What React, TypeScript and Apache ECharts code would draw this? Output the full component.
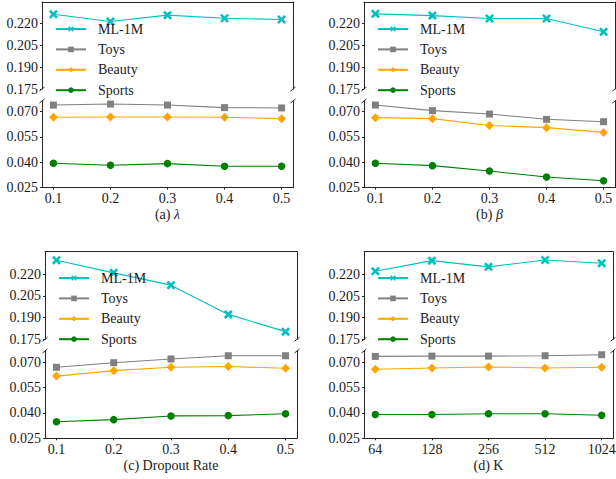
import React, { useEffect, useRef } from "react";
import * as echarts from "echarts";

// ---------- data ----------
const SERIES_NAMES = ["ML-1M", "Toys", "Beauty", "Sports"];
const X_LABELS = ["0.1", "0.2", "0.3", "0.4", "0.5"];
const K_LABELS = ["64", "128", "256", "512", "1024"];
const Y_TOP_TICKS = [0.175, 0.19, 0.205, 0.22];
const Y_BOTTOM_TICKS = [0.025, 0.04, 0.055, 0.07];

// (a) lambda
const ML_A = [0.2261, 0.2212, 0.2255, 0.2234, 0.2225];
const TOYS_A = [0.0737, 0.0743, 0.0737, 0.0722, 0.072];
const BEAUTY_A = [0.0665, 0.0667, 0.0667, 0.0665, 0.0657];
const SPORTS_A = [0.0394, 0.0382, 0.0392, 0.0376, 0.0376];
// (b) beta
const ML_B = [0.2264, 0.2252, 0.2232, 0.2232, 0.2141];
const TOYS_B = [0.0737, 0.0704, 0.0684, 0.0653, 0.0639];
const BEAUTY_B = [0.0663, 0.0657, 0.0617, 0.0604, 0.0576];
const SPORTS_B = [0.0394, 0.038, 0.0348, 0.0313, 0.0291];
// (c) dropout rate
const ML_C = [0.2296, 0.2209, 0.2124, 0.1922, 0.1803];
const TOYS_C = [0.0669, 0.0696, 0.0718, 0.0737, 0.0737];
const BEAUTY_C = [0.0617, 0.0649, 0.0669, 0.0674, 0.0663];
const SPORTS_C = [0.0348, 0.036, 0.0382, 0.0384, 0.0395];
// (d) K
const ML_D = [0.2222, 0.2295, 0.2252, 0.23, 0.2277];
const TOYS_D = [0.0733, 0.0735, 0.0735, 0.0737, 0.0743];
const BEAUTY_D = [0.0657, 0.0665, 0.0671, 0.0665, 0.0669];
const SPORTS_D = [0.039, 0.039, 0.0395, 0.0395, 0.0386];

// ---------- styling / layout ----------
const FONT = "'Liberation Serif', 'DejaVu Serif', serif";
const FS = 14;
const AXIS_COLOR = "#262626";
const TEXT_COLOR = "#1a1a1a";
const COLORS = ["#00BFBF", "#808080", "#FFA500", "#008000"];
const X_PATH =
  "path://M2,0 L5,3 L8,0 L10,2 L7,5 L10,8 L8,10 L5,7 L2,10 L0,8 L3,5 L0,2 Z";
const SYMBOLS = [X_PATH, "rect", "diamond", "circle"];
const SYMBOL_SIZES = [9, 7, 9, 7.5];

const PANELS = [
  {
    left: 42, width: 251, topT: 2, hT: 87, topB: 101, hB: 86.7,
    yMaxT: 0.2345, yMaxB: 0.0761, legendLeft: 55, legendTop: 22,
    labels: X_LABELS, name: "(a) {i|λ}",
    data: [ML_A, TOYS_A, BEAUTY_A, SPORTS_A],
  },
  {
    left: 364, width: 251, topT: 2, hT: 87, topB: 101, hB: 86.7,
    yMaxT: 0.2345, yMaxB: 0.0761, legendLeft: 377, legendTop: 22,
    labels: X_LABELS, name: "(b) {i|β}",
    data: [ML_B, TOYS_B, BEAUTY_B, SPORTS_B],
  },
  {
    left: 45, width: 252, topT: 251.7, hT: 87.6, topB: 351, hB: 87.3,
    yMaxT: 0.2355, yMaxB: 0.0765, legendLeft: 58, legendTop: 271,
    labels: X_LABELS, name: "(c) Dropout Rate",
    data: [ML_C, TOYS_C, BEAUTY_C, SPORTS_C],
  },
  {
    left: 364, width: 249, topT: 251.7, hT: 87.6, topB: 351, hB: 87.3,
    yMaxT: 0.2357, yMaxB: 0.0765, legendLeft: 377, legendTop: 271,
    labels: K_LABELS, name: "(d) K",
    data: [ML_D, TOYS_D, BEAUTY_D, SPORTS_D],
  },
];

const X_IDX = [0, 1, 2, 3, 4];

function buildOption() {
  const grid: any[] = [];
  const xAxis: any[] = [];
  const yAxis: any[] = [];
  const series: any[] = [];
  const legend: any[] = [];
  const graphic: any[] = [];
  const lineStyle = { color: AXIS_COLOR, width: 1 };
  const txt = { color: TEXT_COLOR, fontFamily: FONT, fontSize: FS };

  PANELS.forEach((p) => {
    const gT = grid.length;
    grid.push({ left: p.left, top: p.topT, width: p.width, height: p.hT, outerBoundsMode: "none" });
    grid.push({ left: p.left, top: p.topB, width: p.width, height: p.hB, outerBoundsMode: "none" });
    const gB = gT + 1;

    xAxis.push({
      type: "value", gridIndex: gT, min: -0.2, max: 4.2, position: "top",
      axisLine: { show: true, onZero: false, lineStyle },
      axisTick: { show: false }, axisLabel: { show: false }, splitLine: { show: false },
    });
    xAxis.push({
      type: "value", gridIndex: gB, min: -0.2, max: 4.2, position: "bottom",
      axisLine: { show: true, onZero: false, lineStyle },
      axisTick: { show: true, length: 2, customValues: X_IDX, lineStyle },
      axisLabel: {
        ...txt, customValues: X_IDX, margin: 4,
        formatter: (v: number) => p.labels[Math.round(v)] ?? "",
      },
      splitLine: { show: false },
      name: p.name, nameLocation: "middle", nameGap: 20,
      nameTextStyle: {
        ...txt,
        rich: { i: { ...txt, fontStyle: "italic" } },
      },
    });
    const xT = xAxis.length - 2;
    const xB = xAxis.length - 1;

    const yTL = yAxis.length;
    yAxis.push({
      type: "value", gridIndex: gT, min: 0.175, max: p.yMaxT, position: "left",
      axisLine: { show: true, onZero: false, lineStyle },
      axisTick: { show: true, length: 2, customValues: Y_TOP_TICKS, lineStyle },
      axisLabel: {
        ...txt, customValues: Y_TOP_TICKS, margin: 4,
        formatter: (v: number) => v.toFixed(3),
      },
      splitLine: { show: false },
    });
    yAxis.push({
      type: "value", gridIndex: gT, min: 0.175, max: p.yMaxT, position: "right",
      axisLine: { show: true, onZero: false, lineStyle },
      axisTick: { show: false }, axisLabel: { show: false }, splitLine: { show: false },
    });
    const yBL = yAxis.length;
    yAxis.push({
      type: "value", gridIndex: gB, min: 0.025, max: p.yMaxB, position: "left",
      axisLine: { show: true, onZero: false, lineStyle },
      axisTick: { show: true, length: 2, customValues: Y_BOTTOM_TICKS, lineStyle },
      axisLabel: {
        ...txt, customValues: Y_BOTTOM_TICKS, margin: 4,
        formatter: (v: number) => v.toFixed(3),
      },
      splitLine: { show: false },
    });
    yAxis.push({
      type: "value", gridIndex: gB, min: 0.025, max: p.yMaxB, position: "right",
      axisLine: { show: true, onZero: false, lineStyle },
      axisTick: { show: false }, axisLabel: { show: false }, splitLine: { show: false },
    });

    p.data.forEach((vals, si) => {
      const isTop = si === 0;
      series.push({
        type: "line",
        name: SERIES_NAMES[si],
        xAxisIndex: isTop ? xT : xB,
        yAxisIndex: isTop ? yTL : yBL,
        data: vals.map((v, i) => [X_IDX[i], v]),
        symbol: SYMBOLS[si],
        symbolSize: SYMBOL_SIZES[si],
        showAllSymbol: true,
        lineStyle: { color: COLORS[si], width: 1.1 },
        itemStyle: { color: COLORS[si] },
        z: 3,
      });
    });

    legend.push({
      data: SERIES_NAMES,
      orient: "vertical",
      left: p.legendLeft,
      top: p.legendTop,
      itemWidth: 30,
      itemHeight: 7,
      itemGap: 6.4,
      padding: 0,
      selectedMode: false,
      textStyle: { ...txt, lineHeight: 14, padding: [0, 0, 0, 7] },
    });

    const r = p.left + p.width;
    const bT = p.topT + p.hT;
    const tB = p.topB;
    const mk = (x: number, y: number) => ({
      type: "line",
      shape: { x1: x - 2.5, y1: y + 2, x2: x + 2.5, y2: y - 2 },
      style: { stroke: AXIS_COLOR, lineWidth: 1 },
      silent: true,
    });
    graphic.push(mk(p.left, bT), mk(r, bT), mk(p.left, tB), mk(r, tB));
  });

  return {
    animation: false,
    backgroundColor: "#ffffff",
    textStyle: { fontFamily: FONT },
    grid, xAxis, yAxis, series, legend, graphic,
  };
}

export default function App() {
  const ref = useRef<HTMLDivElement>(null);
  useEffect(() => {
    if (!ref.current) return;
    const chart = echarts.init(ref.current, undefined, { renderer: "svg" });
    chart.setOption(buildOption() as any);
    return () => chart.dispose();
  }, []);
  return (
    <div
      ref={ref}
      style={{ position: "absolute", left: 0, top: 0, width: 616, height: 479 }}
    />
  );
}
